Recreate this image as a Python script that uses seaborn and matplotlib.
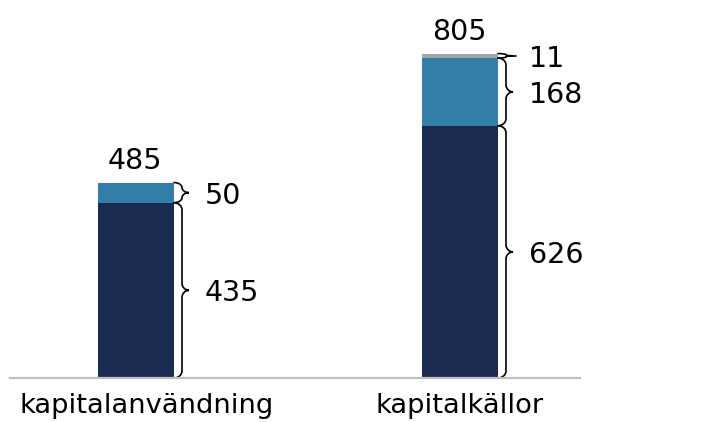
import matplotlib
matplotlib.use("Agg")
import matplotlib.pyplot as plt
import matplotlib.transforms as mtransforms
from matplotlib.path import Path
from matplotlib.patches import PathPatch
import seaborn as sns

# Data
categories = ["kapitalanvändning", "kapitalkällor"]
base_values = [435, 626]
mid_values = [50, 168]
top_values = [0, 11]
totals = [485, 805]

NAVY = "#1b2b50"
BLUE = "#337ea6"
GREY = "#a6a6aa"

sns.set_theme(style="white")
plt.rcParams["font.family"] = ["DejaVu Sans"]

W, H = 708, 422
fig = plt.figure(figsize=(W / 100, H / 100), dpi=100)
ax_left, ax_right, ax_base = 10, 580, 378
ax = fig.add_axes([ax_left / W, 1 - ax_base / H, (ax_right - ax_left) / W, ax_base / H])

bar_w = 76 / 324
xlim = (-126 / 324, 1 + 120 / 324)
ylim = (0, ax_base / 0.403)

bottoms_mid = base_values
bottoms_top = [b + m for b, m in zip(base_values, mid_values)]

sns.barplot(x=categories, y=base_values, color=NAVY, width=bar_w, ax=ax,
            saturation=1, linewidth=0)
sns.barplot(x=categories, y=mid_values, bottom=bottoms_mid, color=BLUE, width=bar_w,
            ax=ax, saturation=1, linewidth=0)
sns.barplot(x=categories, y=top_values, bottom=bottoms_top, color=GREY, width=bar_w,
            ax=ax, saturation=1, linewidth=0)

ax.set_xlim(*xlim)
ax.set_ylim(*ylim)

# px -> data conversions
px_x = (xlim[1] - xlim[0]) / (ax_right - ax_left)
px_y = (ylim[1] - ylim[0]) / ax_base


def brace(x0, y0, y1, label):
    """Curly brace from y0 to y1 starting at bar edge x0, label to the right."""
    h_px = (y1 - y0) / px_y
    ym = (y0 + y1) / 2
    xv = x0 + 8 * px_x      # vertical stroke
    xt = x0 + 15 * px_x     # tip
    r = min(7.0, h_px / 4) * px_y
    k = 0.55
    verts = [
        (x0, y1),
        (x0 + (xv - x0) * k, y1), (xv, y1 - r * (1 - k)), (xv, y1 - r),
        (xv, ym + r),
        (xv, ym + r * (1 - k)), (xv + (xt - xv) * (1 - k), ym), (xt, ym),
        (xv + (xt - xv) * (1 - k), ym), (xv, ym - r * (1 - k)), (xv, ym - r),
        (xv, y0 + r),
        (xv, y0 + r * (1 - k)), (x0 + (xv - x0) * k, y0), (x0, y0),
    ]
    codes = [Path.MOVETO,
             Path.CURVE4, Path.CURVE4, Path.CURVE4,
             Path.LINETO,
             Path.CURVE4, Path.CURVE4, Path.CURVE4,
             Path.CURVE4, Path.CURVE4, Path.CURVE4,
             Path.LINETO,
             Path.CURVE4, Path.CURVE4, Path.CURVE4]
    ax.add_patch(PathPatch(Path(verts, codes), facecolor="none", edgecolor="black",
                           linewidth=1.2, clip_on=False, capstyle="round"))
    if h_px < 12:
        ax.plot([xt, x0 + 18 * px_x], [ym, ym], color="black", lw=1.2, clip_on=False)
    ax.text(x0 + 31 * px_x, ym, label, ha="left", va="center_baseline", fontsize=20.5,
            color="black")


for i in range(len(categories)):
    edge = i + bar_w / 2
    segs = [(0, base_values[i]), (bottoms_mid[i], bottoms_top[i])]
    if top_values[i] > 0:
        segs.append((bottoms_top[i], bottoms_top[i] + top_values[i]))
    vals = [base_values[i], mid_values[i], top_values[i]]
    for (a, b), v in zip(segs, vals):
        brace(edge, a, b, f"{v}")
    ax.annotate(f"{totals[i]}", xy=(i, totals[i]), xytext=(-1, 14),
                textcoords="offset pixels", ha="center", va="baseline",
                fontsize=20.5, color="black", annotation_clip=False)

# axes styling
for s in ["top", "right", "left"]:
    ax.spines[s].set_visible(False)
ax.spines["bottom"].set_color("#bfbfbf")
ax.spines["bottom"].set_linewidth(1.6)
ax.set_yticks([])
ax.set_xticks(range(len(categories)))
ax.set_xticklabels(categories, fontsize=19.7, color="black")
ax.tick_params(axis="x", length=0, pad=11)
ax.set_xlabel("")
ax.set_ylabel("")

# nudge the first category label slightly right
lbl = ax.get_xticklabels()[0]
lbl.set_transform(lbl.get_transform() + mtransforms.ScaledTranslation(11 / 100, 0, fig.dpi_scale_trans))

fig.savefig("out.png", dpi=100, facecolor="white")
